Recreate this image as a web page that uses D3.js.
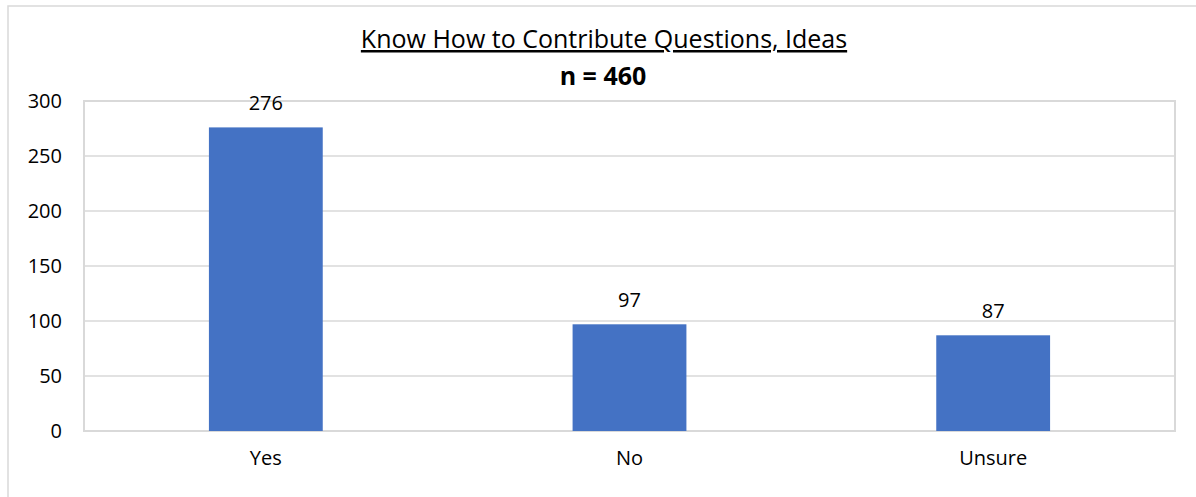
<!DOCTYPE html>
<html>
<head>
<meta charset="utf-8">
<script src="https://cdn.jsdelivr.net/npm/d3@7/dist/d3.min.js"></script>
<style>
  html, body { margin: 0; padding: 0; background: #fff; }
  svg { display: block; font-family: "Open Sans", "Noto Sans", sans-serif; }
</style>
</head>
<body>
<svg id="chart" width="1196" height="497"></svg>
<script>
const categories = ["Yes", "No", "Unsure"];
const values = [276, 97, 87];
const yTicks = [0, 50, 100, 150, 200, 250, 300];
const titleText = "Know How to Contribute Questions, Ideas";
const subtitleText = "n = 460";

const svg = d3.select("#chart");
const plot = { left: 84, right: 1175, top: 101, bottom: 431 };

// outer chart border
svg.append("rect")
  .attr("x", 8).attr("y", 6)
  .attr("width", 1240).attr("height", 600)
  .attr("fill", "#fff").attr("stroke", "#d9d9d9").attr("stroke-width", 1.5);

const x = d3.scaleBand().domain(categories).range([plot.left, plot.right]).paddingInner(0.687).paddingOuter(0.3435);
const y = d3.scaleLinear().domain([0, 300]).range([plot.bottom, plot.top]);

// gridlines
svg.append("g").selectAll("line").data(yTicks.filter(d => d > 0 && d < 300)).join("line")
  .attr("x1", plot.left).attr("x2", plot.right)
  .attr("y1", d => y(d)).attr("y2", d => y(d))
  .attr("stroke", "#d9d9d9").attr("stroke-width", 1.5);

// plot area border
svg.append("rect")
  .attr("x", plot.left).attr("y", plot.top)
  .attr("width", plot.right - plot.left).attr("height", plot.bottom - plot.top)
  .attr("fill", "none").attr("stroke", "#d9d9d9").attr("stroke-width", 2);

// bars
svg.append("g").selectAll("rect").data(values).join("rect")
  .attr("x", (d, i) => x(categories[i]))
  .attr("width", x.bandwidth())
  .attr("y", d => y(d))
  .attr("height", d => y(0) - y(d))
  .attr("fill", "#4472c4");

// data labels
svg.append("g").selectAll("text").data(values).join("text")
  .attr("x", (d, i) => x(categories[i]) + x.bandwidth() / 2)
  .attr("y", d => y(d) - 17)
  .attr("text-anchor", "middle")
  .attr("font-size", 20)
  .attr("fill", "#000")
  .text(d => d);

// y axis labels
const yAxis = d3.axisLeft(y).tickValues(yTicks).tickSize(0).tickPadding(22);
const gy = svg.append("g").attr("transform", `translate(${plot.left},0)`).call(yAxis);
gy.select(".domain").remove();
gy.selectAll("text").attr("font-size", 20).attr("fill", "#000").attr("font-family", "Open Sans");

// x axis labels
const xAxis = d3.axisBottom(x).tickSize(0).tickPadding(20);
const gx = svg.append("g").attr("transform", `translate(0,${plot.bottom})`).call(xAxis);
gx.select(".domain").remove();
gx.selectAll("text").attr("font-size", 20).attr("fill", "#000").attr("font-family", "Open Sans");

// title
svg.append("text")
  .attr("x", 604).attr("y", 48)
  .attr("text-anchor", "middle")
  .attr("font-size", 25)
  .attr("fill", "#000")
  .attr("text-decoration", "underline")
  .text(titleText);

svg.append("text")
  .attr("x", 603).attr("y", 85)
  .attr("text-anchor", "middle")
  .attr("font-size", 25)
  .attr("font-weight", "bold")
  .attr("fill", "#000")
  .text(subtitleText);
</script>
</body>
</html>
